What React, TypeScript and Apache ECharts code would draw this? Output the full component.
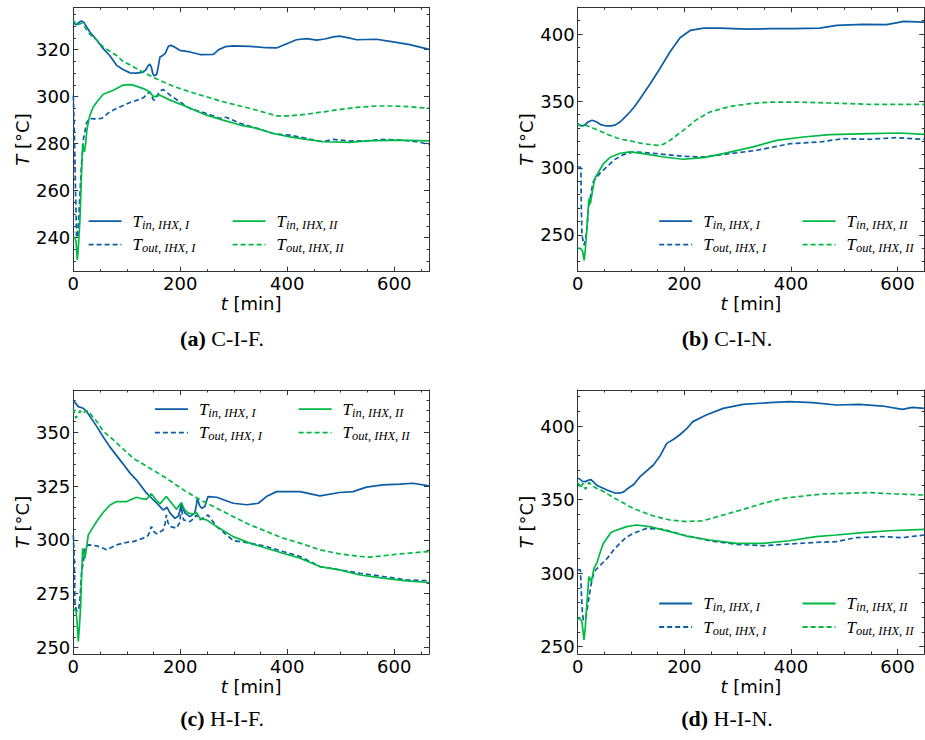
import React, { useEffect, useRef } from 'react';
import * as echarts from 'echarts';

const BLUE = '#0C5DA5';
const GREEN = '#00B945';
const AXIS_COLOR = '#333';

// ---- tick labels ----
const xTicks = [0, 200, 400, 600];
const yTicksA = [240, 260, 280, 300, 320];
const yTicksB = [250, 300, 350, 400];
const yTicksC = [250, 275, 300, 325, 350];
const yTicksD = [250, 300, 350, 400];

const seriesNames = ['in,I', 'out,I', 'in,II', 'out,II'];
const legendSubs: Record<string, string> = { 'in,I': 'in, IHX, I', 'out,I': 'out, IHX, I', 'in,II': 'in, IHX, II', 'out,II': 'out, IHX, II' };
const captionLetters = ['(a)', '(b)', '(c)', '(d)'];
const captionTexts = ['C-I-F.', 'C-I-N.', 'H-I-F.', 'H-I-N.'];

// ---- (a) C-I-F ----
const aTinI = [[0,331.5],[3,331],[6,330.5],[10,331.5],[15,332.2],[20,331.5],[31,327.5],[44,324],[56,320.4],[68,317.5],[81,313.3],[93,311.5],[106,310.1],[118,310],[128,310.3],[135,311.2],[140,313.2],[143,313.8],[146,312.5],[149,309.5],[152,308.8],[156,309.5],[159,313],[162,316.9],[168,317.6],[172,318.5],[178,321.5],[183,321.8],[190,321],[199,319.7],[218,319],[237,317.9],[262,318],[272,320],[285,321.3],[299,321.6],[330,321.4],[360,320.8],[380,320.7],[399,322.5],[417,324.2],[436,324.7],[455,324],[470,324.5],[486,325.4],[498,325.7],[515,325],[530,324.2],[567,324.4],[598,323.3],[629,322.1],[665,320.1]];
const aToutI = [[0,300.5],[2,285],[4,262],[6,241],[8,240],[11,252],[15,270],[19,282],[25,289],[31,290.7],[40,290.5],[53,290.7],[68,293.5],[87,295.6],[106,297.5],[120,298.5],[131,299.5],[138,301],[142,302],[146,301],[149,298.8],[152,298.5],[156,300],[159,301.3],[163,302.5],[168,303],[174,302],[181,300.6],[199,297.8],[218,295],[249,292.8],[274,290.7],[280,291.3],[287,291.1],[312,288.6],[343,286.5],[374,284.3],[390,283.8],[405,283.6],[436,282.2],[467,280.8],[486,281.8],[517,281.1],[548,281.2],[579,281.8],[611,281.5],[642,280.8],[665,279.7]];
const aTinII = [[0,240],[3,239.8],[5,238.5],[7.5,230.5],[10,238],[12.5,248],[15,265],[17.5,279.4],[19,278],[21,276.5],[23,280],[25,285],[28,289],[31,292],[37,295.5],[44,297.7],[56,301],[75,302.7],[93,304.9],[106,305.1],[112,304.9],[131,303.4],[143,302],[150,299.9],[155,300.2],[162,300.6],[181,298.5],[212,295.7],[249,292.1],[280,290],[312,287.9],[343,286.5],[374,284.3],[405,282.9],[436,281.8],[467,280.8],[517,280.5],[548,281.2],[611,281.5],[665,281.2]];
const aToutII = [[0,332.6],[3,331.5],[6.3,330.2],[10,330.8],[15.6,331.2],[20,330],[31,326.5],[44,324],[56,321.1],[81,317.5],[93,315],[106,313.5],[125,311],[140,309.3],[156,307.5],[187,304.4],[218,302],[249,299.9],[280,297.8],[312,296],[343,294.2],[380,291.8],[405,291.8],[436,292.5],[467,293.5],[498,294.5],[530,295.4],[567,296],[598,296],[629,295.7],[665,295]];

// ---- (b) C-I-N ----
const bTinI = [[0,333],[4,332],[8,331.4],[12,331.8],[20,334.5],[27,335.6],[35,334.5],[43,332.4],[52,331.5],[62,331.4],[70,332],[80,334.5],[90,338.5],[98,341.8],[106,345.5],[117,351.7],[136,362.9],[154,374.1],[173,386.6],[192,397.3],[211,402.7],[236,404.5],[267,404.5],[317,403.7],[361,404],[404,404],[454,404.5],[486,406.5],[536,407.2],[579,407],[600,408.5],[611,409.5],[650,409]];
const bToutI = [[0,300.7],[4,300.7],[6,300],[6.8,270],[8,250],[11.8,242.3],[15,247],[18,258],[20,270],[25,281],[29,289.5],[35,293],[43,296.5],[61,303.2],[68,306],[86,310],[105,311.9],[111,311.9],[148,310.7],[198,308.7],[236,308.2],[286,310.7],[336,313.2],[398,318.1],[454,319.4],[498,321.9],[548,321.4],[598,322.6],[650,321.4]];
const bTinII = [[0,239.9],[5,240],[9,238],[12.2,231],[14.5,240],[16.8,252.3],[19,265],[21,277.2],[23.5,273],[25,276],[27.3,282.1],[32,292],[43,299.6],[48,303],[61.8,308.2],[80,311],[98,312],[123,310.7],[161,308.2],[198,306.5],[236,307.7],[273,310.7],[329,315.7],[373,320.6],[423,323.1],[473,324.9],[548,325.6],[604,326.1],[650,325.1]];
const bToutII = [[0,333],[5,331.5],[9,331.4],[15,332],[21,331],[30.6,329.4],[48,326.5],[56,325],[80,321.5],[98,320.3],[123,318.1],[148,316.9],[160,317.5],[173,320.6],[198,328.1],[223,336.1],[248,341.8],[286,346],[323,348],[361,349.2],[411,349.2],[473,348.5],[548,347.5],[611,347.5],[650,347.5]];

// ---- (c) H-I-F ----
const cTinI = [[0,365],[4,363.5],[9.4,361.9],[18.7,361.1],[25,359.6],[44,352.6],[56,347.8],[68,343.3],[93,335.3],[106,331],[118,327.9],[137,321.7],[156,317],[168,313.9],[172,314.5],[175,315.2],[181,312.4],[190,310],[196,311],[199,313.2],[202,317],[206,314],[209,312.4],[218,310.8],[227,312.4],[230,316],[232,319.3],[236,316],[240,314.7],[246,315.5],[249,318],[252,320.1],[268,319.8],[299,317],[324,316.3],[346,317],[361,320.1],[380,322.4],[424,322.4],[461,320.4],[498,322],[523,322.4],[548,324.5],[579,325.5],[611,325.9],[635,326.3],[665,325.1]];
const cToutI = [[0,302.3],[2,290],[3,271.4],[5,268],[7.5,266.7],[10,268],[12,270.6],[15.6,285.3],[19,290],[21.8,296.1],[28,297.7],[44,297.2],[56,296.1],[62,295.4],[81,297.7],[106,299.2],[112,299.2],[131,300.8],[140,302],[146,306.2],[150,304],[156,302.8],[168,304.6],[172,308],[174,311.6],[177,308],[181,306.2],[193,305.4],[199,308],[202,315.5],[204,312],[206,309.3],[218,308.5],[226,310],[230,311.6],[237,309.3],[252,311.6],[268,306.2],[299,299.7],[330,298.5],[361,296.9],[392,294.6],[424,292.3],[461,287.6],[498,286.1],[536,284.5],[579,283],[623,281.4],[665,281]];
const cTinII = [[0,268.3],[5,267],[7,262],[9.4,252.8],[11.5,260],[13.7,269],[15.5,283],[17.5,296.1],[19.5,294],[21.8,291.5],[24,295],[28,302.3],[31,303.5],[43.6,308.5],[55,312.5],[68.6,316.2],[81,317.8],[100,317.8],[118,319.8],[130,319],[137,318.9],[146,321.4],[155,318.5],[162,316.7],[168,318.5],[174,320.1],[184,317],[193,314.2],[198,316],[202,317.3],[208,314],[215,312.4],[224,312],[230,312.7],[237,310],[249,309.3],[268,306.2],[299,301.5],[330,298.5],[361,296.1],[392,293.8],[424,291.5],[461,287.6],[498,286.1],[536,283.7],[579,282.2],[623,281],[665,280.2]];
const cToutII = [[0,361.1],[3,358],[5,356.5],[8,358],[12.5,360],[15,359],[19,358.8],[24,360],[28,359.6],[44,355],[56,350.5],[75,346.4],[112,337.9],[143,333.3],[174,328.6],[206,323.2],[237,318.6],[268,314.7],[299,310.8],[330,307],[361,303.9],[392,300.8],[424,298.5],[461,295.4],[498,293.5],[536,292.3],[554,292],[579,292.6],[611,293.5],[665,294.6]];

// ---- (d) H-I-N ----
const dTinI = [[0,364.5],[4,364],[8.7,362.3],[14,362.2],[21,363.3],[25,363.5],[36.6,359.5],[55,356.5],[71,354.3],[80,354.5],[87,355.4],[92,357],[105.6,360.4],[117,365.6],[142,373.5],[155,380],[167,388.2],[180,391],[191,393.9],[204,398],[216,403],[241,407.5],[273,412],[310,414.7],[360,415.9],[397,416.6],[441,415.9],[485,414.3],[528,414.7],[572,413.6],[609,411.3],[628,412.7],[650,412]];
const dToutI = [[0,302.4],[5,302.2],[6.5,290],[8.7,273.8],[10.6,268.1],[15,269.6],[18,276],[21,283],[25,292],[30.6,301],[43,305.6],[55.6,310.1],[68,316],[79,320.2],[90,324],[104,327],[129,330.4],[160,329.8],[198,325.9],[248,322],[297,319.6],[347,318.6],[397,319.8],[447,320.9],[485,321.4],[522,324.1],[572,324.8],[609,324.1],[650,325.9]];
const dTinII = [[0,269.4],[5,268.7],[8,267],[11.8,254.6],[14,262],[16.2,273.9],[19,288],[21,297.6],[23.5,296],[25.6,294],[30.6,303.3],[36,307],[43,315],[48,320.2],[62,327.5],[67,328.5],[92,331.6],[110,332.7],[135,331.6],[173,328.2],[204,325.2],[248,322.5],[297,320.2],[347,320.2],[397,322],[447,324.8],[485,325.9],[535,327.5],[584,328.8],[650,329.8]];
const dToutII = [[0,361.5],[3,360],[5.6,357.7],[8,360],[10.5,361],[13,358],[15,357],[18,359.5],[21,361.7],[25,360],[32,358.3],[43,356.5],[48,355.5],[70,350.8],[104,344],[142,338.8],[173,336.1],[204,335],[235,335.6],[273,339.5],[310,343.3],[347,347.4],[385,350.8],[422,352.4],[460,353.8],[497,354.2],[547,354.7],[597,353.8],[650,353.1]];

// ---- panel layout ----
const panels = [
  { left: 73.3, top: 7.3, width: 355.7, height: 264.4, xMax: 665, yMin: 225.5, yMax: 338, yTicks: yTicksA, yMinor: 5, series: [aTinI, aToutI, aTinII, aToutII], legend: [87.7, 231.7, 212.7], cap: [222, 338] },
  { left: 577.7, top: 7.3, width: 346.5, height: 264.4, xMax: 650, yMin: 222.5, yMax: 420, yTicks: yTicksB, yMinor: 10, series: [bTinI, bToutI, bTinII, bToutII], legend: [658.3, 801.7, 212.7], cap: [727, 338] },
  { left: 73.3, top: 390, width: 355.7, height: 264, xMax: 665, yMin: 247, yMax: 369.6, yTicks: yTicksC, yMinor: 5, series: [cTinI, cToutI, cTinII, cToutII], legend: [154, 297.7, 400.7], cap: [222, 718] },
  { left: 577.7, top: 390, width: 346.5, height: 264, xMax: 650, yMin: 245, yMax: 424.5, yTicks: yTicksD, yMinor: 10, series: [dTinI, dToutI, dTinII, dToutII], legend: [658.3, 801.7, 595], cap: [727, 718] },
];

const seriesStyles = [
  { color: BLUE, type: 'solid' as any },
  { color: BLUE, type: [5, 3] as any },
  { color: GREEN, type: 'solid' as any },
  { color: GREEN, type: [5, 3] as any },
];

function minors(min: number, max: number, step: number, majors: number[]) {
  const out: number[] = [];
  for (let v = Math.ceil(min / step) * step; v <= max + 1e-9; v += step) {
    if (!majors.some((m) => Math.abs(m - v) < 1e-6)) out.push(+v.toFixed(6));
  }
  return out;
}

const tickFont = { fontSize: 18, fontFamily: 'DejaVu Sans', color: '#000' };
const nameStyle = {
  fontSize: 18,
  fontFamily: 'DejaVu Sans',
  color: '#000',
  rich: { i: { fontStyle: 'italic', fontSize: 18, fontFamily: 'DejaVu Sans', color: '#000' } },
};

function buildOption() {
  const grid: any[] = [];
  const xAxis: any[] = [];
  const yAxis: any[] = [];
  const series: any[] = [];
  const legend: any[] = [];
  const graphic: any[] = [];

  panels.forEach((p, k) => {
    grid.push({ left: p.left, top: p.top, width: p.width, height: p.height, show: false });
    const xMinor = minors(0, p.xMax, 50, xTicks);
    const yMinorVals = minors(p.yMin, p.yMax, p.yMinor, p.yTicks);
    const line = { show: true, onZero: false, lineStyle: { color: AXIS_COLOR, width: 1 } };
    const noLine = { show: false, onZero: false };
    const majT = (vals: number[]) => ({ show: true, inside: true, length: 5, customValues: vals, lineStyle: { color: AXIS_COLOR, width: 1 } });
    const minT = (vals: number[]) => ({ show: true, inside: true, length: 2.5, customValues: vals, lineStyle: { color: AXIS_COLOR, width: 1 } });
    const xb = { type: 'value', gridIndex: k, min: 0, max: p.xMax, splitLine: { show: false } };
    xAxis.push(
      { ...xb, position: 'bottom', axisLine: line, axisTick: majT(xTicks), axisLabel: { show: true, customValues: xTicks, margin: 3, ...tickFont }, name: '{i|t} [min]', nameLocation: 'middle', nameGap: 23, nameTextStyle: nameStyle },
      { ...xb, position: 'bottom', axisLine: noLine, axisTick: minT(xMinor), axisLabel: { show: false } },
      { ...xb, position: 'top', axisLine: line, axisTick: majT(xTicks), axisLabel: { show: false } },
      { ...xb, position: 'top', axisLine: noLine, axisTick: minT(xMinor), axisLabel: { show: false } },
    );
    const yb = { type: 'value', gridIndex: k, min: p.yMin, max: p.yMax, splitLine: { show: false } };
    yAxis.push(
      { ...yb, position: 'left', axisLine: line, axisTick: majT(p.yTicks), axisLabel: { show: true, customValues: p.yTicks, margin: 3, ...tickFont }, name: '{i|T} [°C]', nameLocation: 'middle', nameGap: 42, nameRotate: 90, nameTextStyle: nameStyle },
      { ...yb, position: 'left', axisLine: noLine, axisTick: minT(yMinorVals), axisLabel: { show: false } },
      { ...yb, position: 'right', axisLine: line, axisTick: majT(p.yTicks), axisLabel: { show: false } },
      { ...yb, position: 'right', axisLine: noLine, axisTick: minT(yMinorVals), axisLabel: { show: false } },
    );
    p.series.forEach((data, j) => {
      const st = seriesStyles[j];
      series.push({
        name: seriesNames[j],
        type: 'line',
        xAxisIndex: 4 * k,
        yAxisIndex: 4 * k,
        data,
        symbol: 'none',
        showSymbol: false,
        smooth: false,
        itemStyle: { color: st.color },
        lineStyle: { color: st.color, width: 1.7, type: st.type },
        z: 2 + j,
      });
    });
    const [l1, l2, lt] = p.legend;
    const legBase = {
      orient: 'vertical',
      top: lt,
      padding: 0,
      itemWidth: 33,
      itemHeight: 14,
      itemGap: 5,
      selectedMode: false,
      itemStyle: { opacity: 0, color: 'rgba(0,0,0,0)', borderWidth: 0 },
      lineStyle: { width: 1.8 },
      formatter: (name: string) => `{t|T}{s|${legendSubs[name]}}`,
      textStyle: {
        rich: {
          t: { fontFamily: 'Liberation Serif', fontStyle: 'italic', fontSize: 17, lineHeight: 20, color: '#000', padding: [0, 0, 0, 6], verticalAlign: 'middle' },
          s: { fontFamily: 'Liberation Serif', fontStyle: 'italic', fontSize: 12.5, lineHeight: 12, color: '#000', verticalAlign: 'bottom' },
        },
      },
    };
    legend.push({ ...legBase, left: l1, data: [seriesNames[0], seriesNames[1]] });
    legend.push({ ...legBase, left: l2, data: [seriesNames[2], seriesNames[3]] });
    graphic.push({
      type: 'text',
      x: p.cap[0],
      y: p.cap[1],
      style: {
        text: `{b|${captionLetters[k]}} ${captionTexts[k]}`,
        align: 'center',
        verticalAlign: 'middle',
        fontFamily: 'Liberation Serif',
        fontSize: 22,
        fill: '#000',
        rich: { b: { fontFamily: 'Liberation Serif', fontWeight: 'bold', fontSize: 22, fill: '#000', color: '#000' } },
      },
    });
  });

  return { animation: false, backgroundColor: '#fff', grid, xAxis, yAxis, series, legend, graphic };
}

export default function App() {
  const ref = useRef<HTMLDivElement>(null);
  useEffect(() => {
    if (!ref.current) return;
    const chart = echarts.init(ref.current, undefined, { renderer: 'svg' });
    chart.setOption(buildOption() as any);
    return () => chart.dispose();
  }, []);
  return <div ref={ref} style={{ position: 'absolute', left: 0, top: 0, width: 925, height: 740 }} />;
}
